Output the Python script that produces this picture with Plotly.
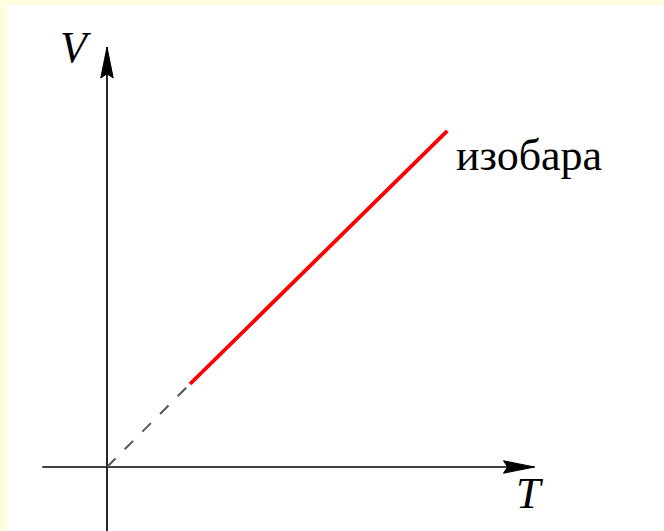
import plotly.graph_objects as go

# Isobar on a V-T diagram: V grows linearly with T at constant pressure.
T_isobar = [1.0, 4.1]
V_isobar = [1.0, 4.05]
# Extrapolation of the isobar toward absolute zero
T_extrap = [0.0, 1.0]
V_extrap = [0.0, 1.0]

T_axis = [-0.78, 5.15]   # extent of the horizontal (T) axis, tip at the end
V_axis = [-0.80, 5.06]   # extent of the vertical (V) axis, tip at the end
axis_labels = ["V", "T"]
curve_label = "изобара"

ARROW_LEN = 0.373
ARROW_HALF = 0.075
ARROW_NOTCH = 0.05

fig = go.Figure()

# axes
fig.add_trace(go.Scatter(x=T_axis, y=[0, 0], mode="lines",
                         line=dict(color="black", width=1.7), hoverinfo="skip"))
fig.add_trace(go.Scatter(x=[0, 0], y=V_axis, mode="lines",
                         line=dict(color="black", width=1.7), hoverinfo="skip"))

# arrowheads (filled, with a slight notch at the back)
tx = T_axis[1]
fig.add_trace(go.Scatter(
    x=[tx, tx - ARROW_LEN, tx - ARROW_LEN + ARROW_NOTCH, tx - ARROW_LEN, tx],
    y=[0, ARROW_HALF, 0, -ARROW_HALF, 0],
    mode="lines", fill="toself", fillcolor="black",
    line=dict(color="black", width=1), hoverinfo="skip"))
ty = V_axis[1]
fig.add_trace(go.Scatter(
    x=[0, ARROW_HALF, 0, -ARROW_HALF, 0],
    y=[ty, ty - ARROW_LEN, ty - ARROW_LEN + ARROW_NOTCH, ty - ARROW_LEN, ty],
    mode="lines", fill="toself", fillcolor="black",
    line=dict(color="black", width=1), hoverinfo="skip"))

# dashed extrapolation and the isobar itself
fig.add_trace(go.Scatter(x=T_extrap, y=V_extrap, mode="lines",
                         line=dict(color="#555555", width=2, dash="12px,13px"),
                         hoverinfo="skip"))
fig.add_trace(go.Scatter(x=T_isobar, y=V_isobar, mode="lines",
                         line=dict(color="#ff0000", width=3.8), hoverinfo="skip"))

serif = "Liberation Serif, DejaVu Serif, serif"
fig.add_annotation(x=-0.373, y=5.06, text="<i>" + axis_labels[0] + "</i>",
                   showarrow=False, font=dict(family=serif, size=44, color="black"),
                   xanchor="center", yanchor="middle")
fig.add_annotation(x=5.096, y=-0.325, text="<i>" + axis_labels[1] + "</i>",
                   showarrow=False, font=dict(family=serif, size=44, color="black"),
                   xanchor="center", yanchor="middle")
fig.add_annotation(x=4.18, y=3.75, text=curve_label,
                   showarrow=False, font=dict(family=serif, size=44, color="black"),
                   xanchor="left", yanchor="middle")

fig.update_layout(
    width=664, height=531,
    margin=dict(l=7, r=0, t=5, b=0),
    paper_bgcolor="#fefedf",
    plot_bgcolor="white",
    showlegend=False,
    xaxis=dict(range=[-1.2048, 6.7108], visible=False, fixedrange=True),
    yaxis=dict(range=[-0.7711, 5.5663], visible=False, fixedrange=True),
)

fig.write_html("out.html")
